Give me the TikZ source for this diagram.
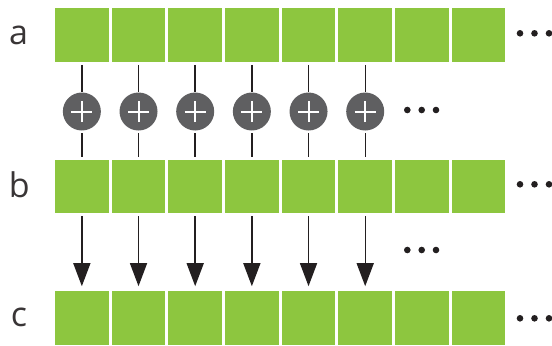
\documentclass[tikz,border=0pt]{standalone}
\usepackage{fontspec}
\setmainfont{Open Sans}
\usetikzlibrary{arrows.meta}
\definecolor{cellgreen}{RGB}{141,198,63}
\definecolor{opgray}{RGB}{95,95,97}
\definecolor{inkdark}{RGB}{35,31,32}
\begin{document}
\begin{tikzpicture}[x=1bp,y=-1bp,
  cell/.style={fill=cellgreen,draw=none,minimum width=53.7bp,minimum height=53.6bp,inner sep=0pt,outer sep=0pt},
  opnode/.style={circle,fill=opgray,draw=none,minimum size=38bp,inner sep=0pt,outer sep=0pt,
    path picture={\draw[white,line width=2bp] ([xshift=-10.5bp]path picture bounding box.center) -- ([xshift=10.5bp]path picture bounding box.center);
                  \draw[white,line width=2bp] ([yshift=-10.5bp]path picture bounding box.center) -- ([yshift=10.5bp]path picture bounding box.center);}},
  link/.style={draw=inkdark,line width=1.4bp},
  flow/.style={draw=inkdark,line width=1.4bp,-{Triangle[length=23bp,width=17bp]}},
  dotmark/.style={fill=inkdark,draw=none},
  rowlabel/.style={font=\fontsize{34bp}{40bp}\selectfont,text=inkdark!90,anchor=base,inner sep=0pt}]
\useasboundingbox (0,0) rectangle (552,345);
% row labels
\node[rowlabel] (la) at (18.7,44.3) {a};
\node[rowlabel] (lb) at (19.3,197) {b};
\node[rowlabel] (lc) at (19,326.7) {c};
% cells
\foreach \i in {1,...,8}{
  \pgfmathsetmacro{\cx}{55+26.85+(\i-1)*56.67}
  \node[cell] (a\i) at (\cx,35) {};
  \node[cell] (b\i) at (\cx,186.5) {};
  \node[cell] (c\i) at (\cx,318) {};
}
% operators and connectors
\foreach \i in {1,...,6}{
  \pgfmathsetmacro{\cx}{55+26.85+(\i-1)*56.67}
  \node[opnode] (p\i) at (\cx,111.5) {};
  \draw[link,shorten <=3bp,shorten >=0.5bp] (a\i.south) -- (p\i.north);
  \draw[link,shorten <=2.5bp,shorten >=3bp] (p\i.south) -- (b\i.north);
  \draw[flow,shorten <=3bp,shorten >=5bp] (b\i.south) -- (c\i.north);
}
% ellipsis dots
\foreach \dx in {520,534.5,549}{
  \fill[dotmark] (\dx,33.3) circle (3.3bp);
  \fill[dotmark] (\dx,184.3) circle (3.3bp);
  \fill[dotmark] (\dx,318.3) circle (3.3bp);
}
\foreach \dx in {407.3,421.7,436}{
  \fill[dotmark] (\dx,110) circle (3.3bp);
  \fill[dotmark] (\dx,250) circle (3.3bp);
}
\end{tikzpicture}
\end{document}
